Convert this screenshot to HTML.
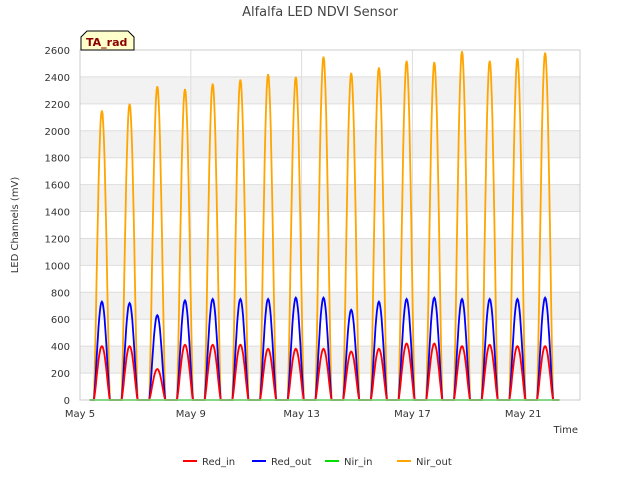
<!DOCTYPE html>
<html><head><meta charset="utf-8"><style>
body{margin:0;background:#fff;font-family:"DejaVu Sans","Liberation Sans",sans-serif}
</style></head><body>
<svg id="c" width="640" height="480" xmlns="http://www.w3.org/2000/svg" font-family="DejaVu Sans, Liberation Sans, sans-serif">
<rect width="640" height="480" fill="#fff"/>
<text x="320" y="16" text-anchor="middle" font-size="13" fill="#444">Alfalfa LED NDVI Sensor</text>
<g id="grid"></g>
<g id="series"></g>
<g id="axes"></g>
<text x="18" y="225" transform="rotate(-90 18 225)" text-anchor="middle" font-size="10" fill="#333">LED Channels (mV)</text>
<text x="578" y="433" text-anchor="end" font-size="10" fill="#333">Time</text>
<g>
<path d="M81,50 L81,37 L87,31 L128,31 L134,37 L134,50 Z" fill="#ffffcc" stroke="#000" stroke-width="1"/>
<text x="86" y="46" font-size="11" font-weight="bold" fill="#8b0000">TA_rad</text>
</g>
<g id="legend"></g>
</svg>
<script>
const yTicks=[0,200,400,600,800,1000,1200,1400,1600,1800,2000,2200,2400,2600];
const xTickLabels=["May 5","May 9","May 13","May 17","May 21"];
const xTickDays=[0,4,8,12,16];
const peakDays=[0,1,2,3,4,5,6,7,8,9,10,11,12,13,14,15,16];
const nirOut=[2150,2200,2330,2310,2350,2380,2420,2400,2550,2430,2470,2520,2510,2590,2520,2540,2580];
const redOut=[730,720,630,740,750,750,750,760,760,670,730,750,760,750,750,750,760];
const redIn=[400,400,230,410,410,410,380,380,380,360,380,420,420,400,410,400,400];
const nirIn=[0,0,0,0,0,0,0,0,0,0,0,0,0,0,0,0,0];
const X0=80,X1=580,Y0=400,Y1=50,DAYS=18.05,YMAX=2600;
const sx=d=>X0+d/DAYS*(X1-X0), sy=v=>Y0-v/YMAX*(Y0-Y1);
const ns="http://www.w3.org/2000/svg";
function mk(t,a,p){const e=document.createElementNS(ns,t);for(const k in a)e.setAttribute(k,a[k]);p.appendChild(e);return e;}
const grid=document.getElementById('grid'),axes=document.getElementById('axes'),ser=document.getElementById('series'),leg=document.getElementById('legend');
for(let i=0;i<yTicks.length-1;i++){if(i%2===1){const b=mk('rect',{x:X0,y:sy(yTicks[i+1]),width:X1-X0,height:sy(yTicks[i])-sy(yTicks[i+1]),fill:'#f2f2f2'},grid);

}}
yTicks.forEach(v=>{const l=mk('line',{x1:X0,x2:X1,y1:sy(v),y2:sy(v),stroke:'#ddd'},grid);


const t=mk('text',{x:X0-10,y:sy(v)+4,'text-anchor':'end','font-size':10,fill:'#333'},axes);t.textContent=v;

});
xTickDays.forEach((d,i)=>{const l=mk('line',{x1:sx(d),x2:sx(d),y1:Y1,y2:Y0,stroke:'#ddd'},grid);


const t=mk('text',{x:sx(d),y:Y0+17,'text-anchor':'middle','font-size':10,fill:'#333'},axes);t.textContent=xTickLabels[i];

});
mk('rect',{x:X0,y:Y1,width:X1-X0,height:Y0-Y1,fill:'none',stroke:'#ccc'},axes);
function pathFor(vals){let d=`M${sx(0.35)},${sy(0)}`;
peakDays.forEach((k,i)=>{const s=k+0.5,e=k+1.08;d+=` L${sx(s)},${sy(0)}`;
for(let j=0;j<=24;j++){const f=j/24;const v=vals[i]*Math.pow(Math.sin(Math.PI*f),1.3);d+=` L${sx(s+f*(e-s)).toFixed(1)},${sy(v).toFixed(1)}`;}});
d+=` L${sx(17.3)},${sy(0)}`;return d;}
const S=[["Red_in",redIn,"#ff0000"],["Red_out",redOut,"#0000ff"],["Nir_in",nirIn,"#00dd00"],["Nir_out",nirOut,"#ffa500"]];
[S[3],S[1],S[0],S[2]].forEach(s=>{const p=mk('path',{d:pathFor(s[1]),fill:'none',stroke:s[2],'stroke-width':1.8},ser);

});
const lx=[183,252,325,397];
S.forEach((s,i)=>{const g=mk('g',{},leg);


mk('line',{x1:lx[i],x2:lx[i]+14,y1:461,y2:461,stroke:s[2],'stroke-width':2},g);
const t=mk('text',{x:lx[i]+19,y:465,'font-size':10,fill:'#333'},g);t.textContent=s[0];});
</script>
</body></html>
